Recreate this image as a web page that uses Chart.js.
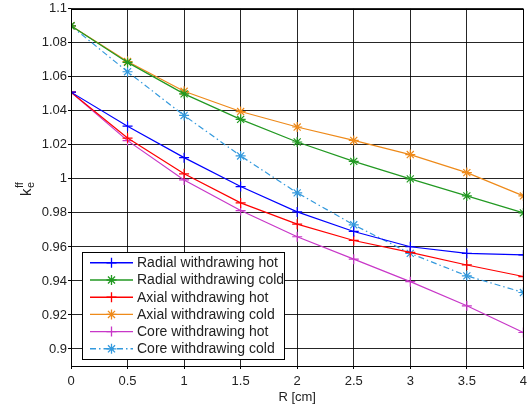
<!DOCTYPE html>
<html>
<head>
<meta charset="utf-8">
<script src="https://cdn.jsdelivr.net/npm/chart.js@4/dist/chart.umd.min.js"></script>
<style>
html,body{margin:0;padding:0;background:#fff;}
#wrap{width:532px;height:406px;}
</style>
</head>
<body>
<div id="wrap"><canvas id="c" width="532" height="406"></canvas></div>
<script>
// ---- data ----
const rValues = [0, 0.5, 1, 1.5, 2, 2.5, 3, 3.5, 4];
const radialHot  = [1.051, 1.031, 1.0125, 0.9955, 0.9806, 0.9691, 0.9601, 0.9562, 0.9553];
const radialCold = [1.090, 1.0685, 1.050, 1.035, 1.0217, 1.0103, 1.000, 0.990, 0.980];
const axialHot   = [1.051, 1.024, 1.003, 0.9859, 0.9734, 0.9638, 0.9568, 0.9494, 0.9426];
const axialCold  = [1.090, 1.069, 1.0515, 1.0396, 1.0305, 1.0226, 1.0143, 1.0037, 0.990];
const coreHot    = [1.051, 1.0225, 0.9994, 0.9814, 0.966, 0.9528, 0.9396, 0.9254, 0.9097];
const coreCold   = [1.090, 1.063, 1.0373, 1.0135, 0.9918, 0.973, 0.9562, 0.943, 0.9332];
const seriesNames = ["Radial withdrawing hot", "Radial withdrawing cold", "Axial withdrawing hot",
                     "Axial withdrawing cold", "Core withdrawing hot", "Core withdrawing cold"];
const yTickValues = [0.9, 0.92, 0.94, 0.96, 0.98, 1, 1.02, 1.04, 1.06, 1.08, 1.1];
const xTickValues = [0, 0.5, 1, 1.5, 2, 2.5, 3, 3.5, 4];

const seriesValues = [radialHot, radialCold, axialHot, axialCold, coreHot, coreCold];
const colors = ['#0000ff', '#229922', '#ff0000', '#ee8a1a', '#c837c8', '#3399dd'];
const markers = ['cross', 'star', 'cross', 'star', 'cross', 'star'];
const dashes = [[], [], [], [], [], [6, 3, 1.5, 3]];

const datasets = seriesValues.map((vals, k) => ({
  label: seriesNames[k],
  data: rValues.map((x, i) => ({x: x, y: vals[i]})),
  borderColor: colors[k],
  backgroundColor: colors[k],
  borderWidth: 1.2,
  borderDash: dashes[k],
  pointStyle: markers[k],
  pointRadius: 5,
  pointBorderWidth: 1.2,
  pointBorderColor: colors[k],
  showLine: true,
  tension: 0,
  fill: false
}));

const FONT = "'Liberation Sans', Arial, sans-serif";

function drawMarker(ctx, style, x, y, r, color) {
  ctx.save();
  ctx.strokeStyle = color;
  ctx.lineWidth = 1.3;
  ctx.setLineDash([]);
  ctx.beginPath();
  ctx.moveTo(x - r, y); ctx.lineTo(x + r, y);
  ctx.moveTo(x, y - r); ctx.lineTo(x, y + r);
  if (style === 'star') {
    const d = r * Math.SQRT1_2;
    ctx.moveTo(x - d, y - d); ctx.lineTo(x + d, y + d);
    ctx.moveTo(x - d, y + d); ctx.lineTo(x + d, y - d);
  }
  ctx.stroke();
  ctx.restore();
}

const boxPlugin = {
  id: 'box',
  afterDraw(chart) {
    const {ctx, chartArea: a} = chart;
    ctx.save();
    ctx.strokeStyle = '#000';
    ctx.lineWidth = 1;
    ctx.setLineDash([]);
    ctx.strokeRect(Math.round(a.left) + 0.5, Math.round(a.top) + 0.5,
                   Math.round(a.right - a.left), Math.round(a.bottom - a.top));

    // legend
    const lx = 82, ly = 252, lw = 202, lh = 107;
    ctx.fillStyle = '#fff';
    ctx.fillRect(lx, ly, lw, lh);
    ctx.strokeStyle = '#000';
    ctx.strokeRect(lx + 0.5, ly + 0.5, lw, lh);
    ctx.font = '14px ' + FONT;
    ctx.textBaseline = 'middle';
    ctx.textAlign = 'left';
    for (let k = 0; k < seriesNames.length; k++) {
      const cy = 262.8 + k * 17.2;
      ctx.strokeStyle = colors[k];
      ctx.lineWidth = 1.4;
      ctx.setLineDash(dashes[k]);
      ctx.beginPath();
      ctx.moveTo(90, cy);
      ctx.lineTo(133, cy);
      ctx.stroke();
      ctx.setLineDash([]);
      drawMarker(ctx, markers[k], 111.5, cy, 5, colors[k]);
      ctx.fillStyle = '#222';
      ctx.fillText(seriesNames[k], 137, cy + 0.5);
    }

    // y axis label k_e^ff
    ctx.save();
    ctx.translate(26, 187);
    ctx.rotate(-Math.PI / 2);
    ctx.fillStyle = '#222';
    ctx.textBaseline = 'alphabetic';
    ctx.font = '15px ' + FONT;
    ctx.fillText('k', -9, 5);
    ctx.font = '11px ' + FONT;
    ctx.fillText('e', -1, 8);
    ctx.fillText('ff', -1, -3);
    ctx.restore();
    ctx.restore();
  }
};

new Chart(document.getElementById('c'), {
  type: 'scatter',
  data: {datasets},
  options: {
    responsive: false,
    animation: false,
    layout: {padding: {top: 8, right: 7, left: 0, bottom: 0}},
    plugins: {legend: {display: false}, tooltip: {enabled: false}},
    scales: {
      x: {
        type: 'linear', min: 0, max: 4,
        afterBuildTicks: s => { s.ticks = xTickValues.map(v => ({value: v})); },
        afterFit: s => { s.height = 40; },
        ticks: {
          color: '#222', padding: 5,
          font: {size: 13, family: FONT},
          callback: v => String(Number(v.toFixed(2)))
        },
        grid: {color: 'rgba(0,0,0,0.85)', borderDash: [2, 3], lineWidth: 1,
               tickLength: 3, tickColor: '#000', tickBorderDash: []},
        border: {display: false},
        title: {display: true, text: 'R [cm]', color: '#222',
                font: {size: 13, family: FONT}, padding: {top: 0, bottom: 1}}
      },
      y: {
        type: 'linear', min: 0.89, max: 1.1,
        afterBuildTicks: s => { s.ticks = yTickValues.map(v => ({value: v})); },
        afterFit: s => { s.width = 71; },
        ticks: {
          color: '#222', padding: 1,
          font: {size: 13, family: FONT},
          callback: v => String(Number(v.toFixed(2)))
        },
        grid: {color: 'rgba(0,0,0,0.85)', borderDash: [2, 3], lineWidth: 1,
               tickLength: 3, tickColor: '#000', tickBorderDash: []},
        border: {display: false}
      }
    }
  },
  plugins: [boxPlugin]
});
</script>
</body>
</html>
